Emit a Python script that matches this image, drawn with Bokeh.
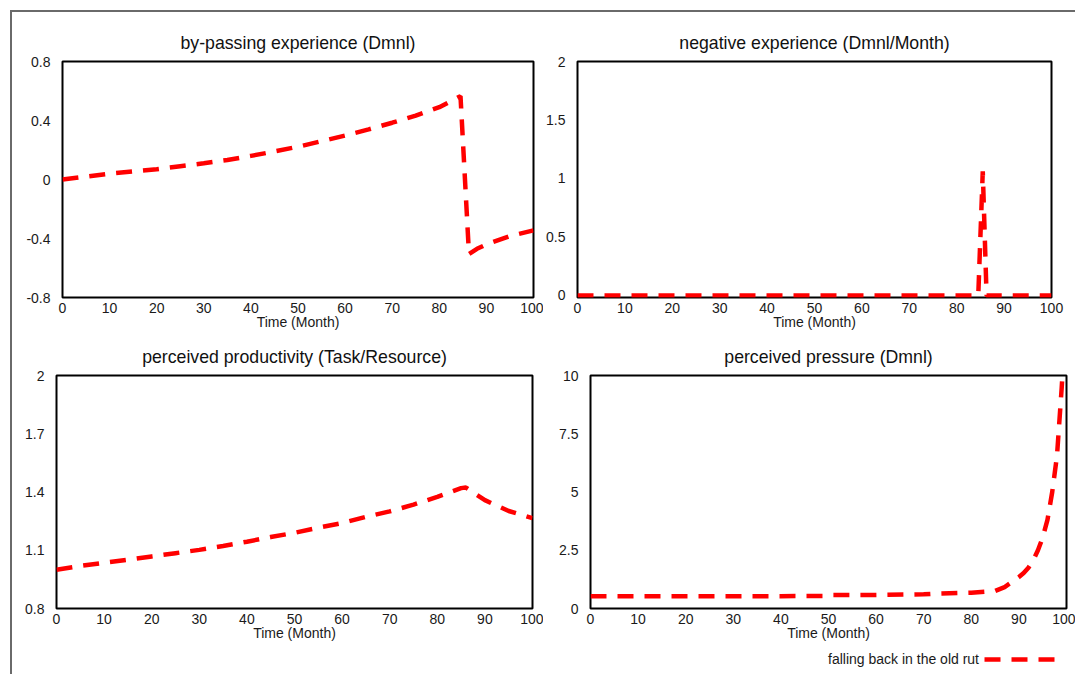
from bokeh.plotting import figure
from bokeh.layouts import column, row
from bokeh.models import Range1d, FixedTicker, Label, Legend, LegendItem
from bokeh.embed import file_html
from bokeh.resources import INLINE

FONT = "Liberation Sans"
RED = "#ff0000"
DASH = "16 11"
LW = 4.5

# ---------------- data ----------------
time_ticks = [0, 10, 20, 30, 40, 50, 60, 70, 80, 90, 100]
time_labels = ["0", "10", "20", "30", "40", "50", "60", "70", "80", "90", "100"]

bypass_t = [0, 5, 10, 15, 20, 25, 30, 35, 40, 45, 50, 55, 60, 65, 70, 75, 80, 84.5, 86.3, 88, 90, 95, 100]
bypass_v = [0.0, 0.02, 0.04, 0.055, 0.07, 0.09, 0.11, 0.132, 0.16, 0.19, 0.222, 0.26, 0.298, 0.34,
            0.385, 0.433, 0.49, 0.565, -0.505, -0.47, -0.44, -0.383, -0.345]
bypass_ticks = [-0.8, -0.4, 0, 0.4, 0.8]
bypass_labels = ["-0.8", "-0.4", "0", "0.4", "0.8"]

negexp_t = [0, 84.55, 85.5, 86.3, 100]
negexp_v = [0.0, 0.0, 1.06, 0.0, 0.0]
negexp_ticks = [0, 0.5, 1, 1.5, 2]
negexp_labels = ["0", "0.5", "1", "1.5", "2"]

prod_t = [0, 5, 10, 15, 20, 25, 30, 35, 40, 45, 50, 55, 60, 65, 70, 75, 80, 85, 86, 90, 95, 100]
prod_v = [1.0, 1.019, 1.035, 1.051, 1.068, 1.085, 1.102, 1.122, 1.144, 1.168, 1.19, 1.216, 1.24,
          1.272, 1.30, 1.335, 1.375, 1.42, 1.423, 1.358, 1.302, 1.265]
prod_ticks = [0.8, 1.1, 1.4, 1.7, 2.0]
prod_labels = ["0.8", "1.1", "1.4", "1.7", "2"]

press_t = [0, 10, 20, 30, 40, 50, 51, 60, 70, 73, 80, 85, 87, 89, 90, 91, 92, 93, 94, 95, 96, 97, 98, 99, 100]
press_v = [0.53, 0.53, 0.53, 0.53, 0.53, 0.535, 0.575, 0.58, 0.61, 0.645, 0.68, 0.75, 0.92, 1.2, 1.35,
           1.52, 1.75, 2.07, 2.5, 3.05, 3.8, 5.0, 6.55, 9.5, 13.0]
press_ticks = [0, 2.5, 5, 7.5, 10]
press_labels = ["0", "2.5", "5", "7.5", "10"]

series_name = "falling back in the old rut"


def make_panel(title, t, v, yr, yticks, ylabels, width, height, bl, br, bt, bb):
    p = figure(width=width, height=height, x_range=Range1d(0, 100), y_range=Range1d(*yr),
               output_backend="svg", toolbar_location=None, title=title,
               min_border_left=bl, min_border_right=br, min_border_top=bt, min_border_bottom=bb)
    p.title.text_font = FONT
    p.title.text_font_size = "17.7px"
    p.title.text_font_style = "normal"
    p.title.text_color = "#111111"
    p.title.align = "center"
    p.title.standoff = 17
    p.outline_line_color = "black"
    p.outline_line_width = 2
    p.xgrid.visible = False
    p.ygrid.visible = False
    p.background_fill_color = "white"
    p.border_fill_color = "white"

    p.xaxis.ticker = FixedTicker(ticks=time_ticks)
    p.xaxis.major_label_overrides = {tk: lb for tk, lb in zip(time_ticks, time_labels)}
    p.xaxis.axis_label = "Time (Month)"
    p.xaxis.axis_label_standoff = -2
    p.xaxis.major_label_standoff = 5
    p.yaxis.ticker = FixedTicker(ticks=yticks)
    p.yaxis.major_label_overrides = {tk: lb for tk, lb in zip(yticks, ylabels)}
    p.yaxis.major_label_standoff = 12
    for ax in (p.xaxis, p.yaxis):
        ax.axis_line_color = None
        ax.major_tick_line_color = None
        ax.minor_tick_line_color = None
        ax.major_tick_out = 0
        ax.major_tick_in = 0
        ax.major_label_text_font = FONT
        ax.major_label_text_font_size = "14px"
        ax.major_label_text_color = "#1a1a1a"
        ax.axis_label_text_font = FONT
        ax.axis_label_text_font_size = "14px"
        ax.axis_label_text_font_style = "normal"
        ax.axis_label_text_color = "#1a1a1a"

    r = p.line(t, v, line_color=RED, line_width=LW, line_dash=DASH)
    return p, r


p1, _ = make_panel("by-passing experience (Dmnl)", bypass_t, bypass_v, (-0.8, 0.8),
                   bypass_ticks, bypass_labels, 531, 324, 50, 10, 49, 39)
p2, _ = make_panel("negative experience (Dmnl/Month)", negexp_t, negexp_v, (-0.018, 2),
                   negexp_ticks, negexp_labels, 532, 324, 32, 24, 49, 39)
p3, _ = make_panel("perceived productivity (Task/Resource)", prod_t, prod_v, (0.8, 2.0),
                   prod_ticks, prod_labels, 531, 312, 44, 11, 36, 40)
p4, _ = make_panel("perceived pressure (Dmnl)", press_t, press_v, (0, 10),
                   press_ticks, press_labels, 532, 312, 47, 9, 36, 40)

# ---------------- legend strip (text left of the dashed sample) ----------------
SW, SH = 1063, 26
SX0, SY0 = 200, 100   # strip coordinate origin, kept away from the series values
strip = figure(width=SW, height=SH, x_range=Range1d(SX0, SX0 + SW), y_range=Range1d(SY0, SY0 + SH),
               x_axis_type=None, y_axis_type=None, output_backend="svg",
               toolbar_location=None, min_border=0)
strip.outline_line_color = None
strip.xgrid.visible = False
strip.ygrid.visible = False
strip.background_fill_color = "white"
strip.border_fill_color = "white"
key = strip.line(press_t, press_v, line_color=RED, line_width=LW, line_dash=DASH)
strip.add_layout(Label(x=SX0 + 966.5, y=SY0 + 15.3, text=series_name, text_align="right",
                       text_baseline="middle", text_font=FONT, text_font_size="14px",
                       text_color="#1a1a1a"))
leg = Legend(items=[LegendItem(label="", renderers=[key])], location=(971.7, 10.3),
             padding=0, spacing=0, margin=0, glyph_width=71, glyph_height=10,
             label_width=0, label_height=10, label_standoff=0,
             border_line_color=None, background_fill_alpha=0)
strip.add_layout(leg)

layout = column(row(p1, p2), row(p3, p4), strip,
                styles={"border-left": "2px solid #6a6a6a", "border-top": "2px solid #6a6a6a"},
                margin=(10, 0, 0, 10))

open("out.html", "w").write(file_html(layout, INLINE))
